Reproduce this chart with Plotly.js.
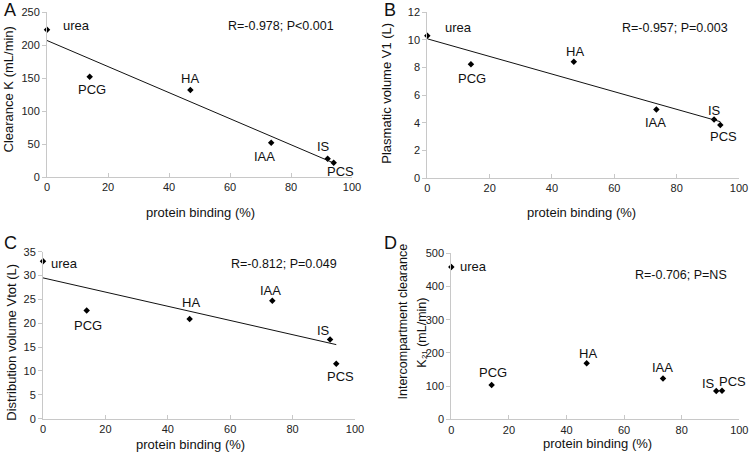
<!DOCTYPE html>
<html>
<head>
<meta charset="utf-8">
<script src="https://cdn.plot.ly/plotly-3.0.1.min.js"></script>
<style>html,body{margin:0;padding:0;background:#fff;}#chart{width:750px;height:463px;}</style>
</head>
<body>
<div id="chart"></div>
<script>
// ---- data ----
const compounds = ["urea", "PCG", "HA", "IAA", "IS", "PCS"];
const proteinBinding = [0, 14, 47, 73.5, 92, 94];
const clearanceK = [223, 152, 132, 52, 27.5, 21.5];
const plasmaticV1 = [10.28, 8.23, 8.41, 4.96, 4.23, 3.84];
const distributionVtot = [33.0, 22.7, 20.9, 24.7, 16.6, 11.5];
const interK21 = [459, 103, 169, 123, 85, 86];
const statsText = ["R=-0.978; P<0.001", "R=-0.957; P=0.003", "R=-0.812; P=0.049", "R=-0.706; P=NS"];
const panelLetters = ["A", "B", "C", "D"];
const yTitles = ["Clearance K (mL/min)", "Plasmatic volume V1 (L)", "Distribution volume Vtot (L)"];
const yTitleD = ["Intercompartment clearance", "K\u2082\u2081 (mL/min)"];
const xTitle = "protein binding (%)";
const yRanges = [[0, 250], [0, 12], [0, 35], [0, 500]];
const yDtick = [50, 2, 5, 100];

// ---- helpers ----
const W = 750, H = 463;
const px = v => v / W;
const py = v => 1 - v / H;
const FONT = "Liberation Sans, Arial, DejaVu Sans, sans-serif";

function linfit(x, y) {
  const n = x.length;
  const mx = x.reduce((a, b) => a + b, 0) / n;
  const my = y.reduce((a, b) => a + b, 0) / n;
  let sxy = 0, sxx = 0;
  for (let i = 0; i < n; i++) { sxy += (x[i] - mx) * (y[i] - my); sxx += (x[i] - mx) ** 2; }
  const b = sxy / sxx;
  return [my - b * mx, b];
}

// panel plot areas in pixels [x0, x1, yTop, yBottom]
const boxes = [
  [47, 352, 12, 177],
  [427.3, 739, 12, 178],
  [43, 355, 251.7, 418.7],
  [451.3, 739.3, 253.3, 419.3]
];
const series = [clearanceK, plasmaticV1, distributionVtot, interK21];
const withFit = [true, true, true, false];

// label offsets [xshift, yshift, xanchor] per panel per compound
const labelPos = [
  [[14, 4, "left"], [2, -13, "center"], [0, 11, "center"], [-7, -14, "center"], [-4, 12, "center"], [7, -9, "center"]],
  [[16, 8, "left"], [1, -14, "center"], [1, 10, "center"], [-1, -13, "center"], [0, 9, "center"], [3, -12, "center"]],
  [[6, -2, "left"], [1, -15, "center"], [1, 16, "center"], [-2, 10, "center"], [-7, 9, "center"], [4, -13, "center"]],
  [[7, 0, "left"], [1, 13, "center"], [1, 10, "center"], [0, 11, "center"], [-8, 8, "center"], [10, 9, "center"]]
];

const traces = [];
const layout = {
  width: W, height: H,
  margin: {l: 0, r: 0, t: 0, b: 0},
  paper_bgcolor: "#fff", plot_bgcolor: "#fff",
  showlegend: false,
  font: {family: FONT, color: "#222"},
  annotations: []
};

boxes.forEach((bx, i) => {
  const sfx = i === 0 ? "" : String(i + 1);
  const xa = "x" + sfx, ya = "y" + sfx;
  layout["xaxis" + sfx] = {
    domain: [px(bx[0]), px(bx[1])], anchor: ya, range: [0, 100], dtick: 20,
    showgrid: false, zeroline: false, showline: true, linecolor: "#c8c8c8", linewidth: 1,
    ticks: "inside", ticklen: 4, tickcolor: "#c8c8c8",
    tickfont: {size: 11, color: "#222", family: FONT}, fixedrange: true
  };
  layout["yaxis" + sfx] = {
    domain: [py(bx[3]), py(bx[2])], anchor: xa, range: yRanges[i], dtick: yDtick[i],
    showgrid: false, zeroline: false, showline: true, linecolor: "#c8c8c8", linewidth: 1,
    ticks: "outside", ticklen: 4, tickcolor: "#c8c8c8",
    tickfont: {size: 11, color: "#222", family: FONT}, fixedrange: true
  };
  traces.push({
    x: proteinBinding, y: series[i], xaxis: xa, yaxis: ya,
    type: "scatter", mode: "markers", cliponaxis: false,
    marker: {symbol: "diamond", size: 5, color: "#000"}, hoverinfo: "x+y"
  });
  if (withFit[i]) {
    const [a, b] = linfit(proteinBinding, series[i]);
    const xs = [Math.min(...proteinBinding), Math.max(...proteinBinding)];
    traces.push({
      x: xs, y: xs.map(v => a + b * v), xaxis: xa, yaxis: ya,
      type: "scatter", mode: "lines", line: {color: "#111", width: 1}, hoverinfo: "skip"
    });
  }
  // point labels
  compounds.forEach((c, k) => {
    const lp = labelPos[i][k];
    layout.annotations.push({
      xref: xa, yref: ya, x: proteinBinding[k], y: series[i][k], text: c,
      showarrow: false, xanchor: lp[2], yanchor: "middle", xshift: lp[0], yshift: lp[1],
      font: {size: 13, color: "#111", family: FONT}
    });
  });
});

// stats text
const statsPos = [[280.5, 26], [674.5, 28], [283.7, 264.3], [680.8, 275.3]];
statsPos.forEach((p, i) => layout.annotations.push({
  xref: "paper", yref: "paper", x: px(p[0]), y: py(p[1]), text: statsText[i],
  showarrow: false, xanchor: "center", yanchor: "middle", font: {size: 12.5, color: "#111", family: FONT}
}));
// panel letters
const letterPos = [[1.5, 10], [381.5, 10], [1.5, 242.5], [381.5, 242.5]];
letterPos.forEach((p, i) => layout.annotations.push({
  xref: "paper", yref: "paper", x: px(p[0]), y: py(p[1]), text: panelLetters[i],
  showarrow: false, xanchor: "left", yanchor: "middle", font: {size: 18, color: "#111", family: FONT}
}));
// x titles
const xTitlePos = [[200, 212.7], [581.7, 212.7], [190.7, 444.3], [597.5, 443.7]];
xTitlePos.forEach(p => layout.annotations.push({
  xref: "paper", yref: "paper", x: px(p[0]), y: py(p[1]), text: xTitle,
  showarrow: false, xanchor: "center", yanchor: "middle", font: {size: 13, color: "#111", family: FONT}
}));
// y titles
const yTitlePos = [[8, 89.5], [386.7, 93], [12, 342.7]];
yTitlePos.forEach((p, i) => layout.annotations.push({
  xref: "paper", yref: "paper", x: px(p[0]), y: py(p[1]), text: yTitles[i], textangle: -90,
  showarrow: false, xanchor: "center", yanchor: "middle", font: {size: 13, color: "#111", family: FONT}
}));
const yTitleDPos = [[402.7, 321.8], [421.7, 333]];
yTitleDPos.forEach((p, i) => layout.annotations.push({
  xref: "paper", yref: "paper", x: px(p[0]), y: py(p[1]), text: yTitleD[i], textangle: -90,
  showarrow: false, xanchor: "center", yanchor: "middle", font: {size: 12.5, color: "#111", family: FONT}
}));

Plotly.newPlot("chart", traces, layout, {displayModeBar: false, staticPlot: true});
</script>
</body>
</html>
